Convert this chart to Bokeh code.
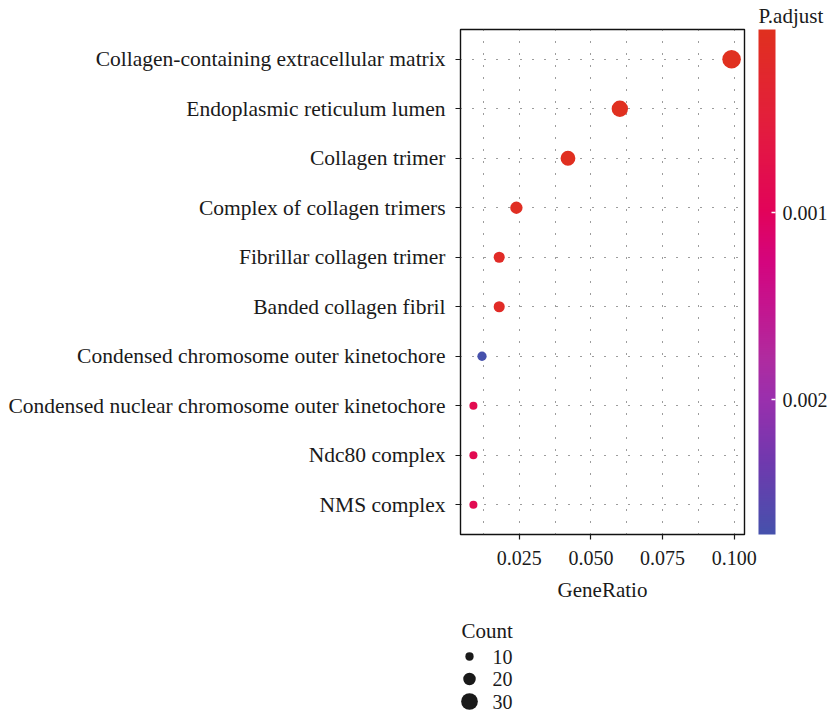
import math
from bokeh.plotting import figure
from bokeh.models import (Range1d, FixedTicker, LinearColorMapper, ColorBar, Title,
                          CustomJSTickFormatter, ColumnDataSource, PrintfTickFormatter,
                          AllLabels)
from bokeh.layouts import column
from bokeh.transform import transform
from bokeh.embed import file_html
from bokeh.resources import INLINE
from bokeh.core.properties import value

# ---------------- data ----------------
terms = [
    "Collagen-containing extracellular matrix",
    "Endoplasmic reticulum lumen",
    "Collagen trimer",
    "Complex of collagen trimers",
    "Fibrillar collagen trimer",
    "Banded collagen fibril",
    "Condensed chromosome outer kinetochore",
    "Condensed nuclear chromosome outer kinetochore",
    "Ndc80 complex",
    "NMS complex",
]
gene_ratio = [0.0991, 0.0601, 0.0420, 0.0240, 0.0180, 0.0180, 0.0120, 0.0090, 0.0090, 0.0090]
counts = [33, 20, 14, 8, 6, 6, 4, 3, 3, 3]
p_adjust = [2.1e-05, 3.3e-05, 4.5e-05, 8.8e-05, 1.5e-04, 1.5e-04, 2.72e-03, 8.4e-04, 8.6e-04, 8.6e-04]
x_ticks = [0.025, 0.050, 0.075, 0.100]
cbar_ticks = [0.001, 0.002]
legend_counts = [10, 20, 30]

FONT = "Liberation Serif"
TXT = "#1a1a1a"
GRID = "#3a3a3a"

# layout (pixels)
FRAME_L, FRAME_W, FRAME_T, FRAME_H = 460, 284, 29, 505
FIG_W = 829
MAIN_H = 612
LEG_H = 102

# colour gradient stops, from smallest p.adjust (top) to largest (bottom)
stops = [(0.00, "#E0301F"), (0.18, "#E31E3C"), (0.36, "#E2035A"), (0.46, "#D4057E"),
         (0.55, "#C4158F"), (0.65, "#B02B9F"), (0.73, "#9B2FAD"), (0.85, "#7238AE"),
         (1.00, "#4651AC")]


def _rgb(h):
    h = h.lstrip("#")
    return tuple(int(h[i:i + 2], 16) for i in (0, 2, 4))


def _interp(t):
    for (t0, c0), (t1, c1) in zip(stops[:-1], stops[1:]):
        if t0 <= t <= t1:
            f = (t - t0) / (t1 - t0) if t1 > t0 else 0
            a, b = _rgb(c0), _rgb(c1)
            return "#%02x%02x%02x" % tuple(round(a[i] + (b[i] - a[i]) * f) for i in range(3))
    return stops[-1][1]


N_PAL = 256
# palette index 0 corresponds to mapper low (= -max p, the blue end at the bottom)
palette = [_interp(1 - k / (N_PAL - 1)) for k in range(N_PAL)]


def point_size(c):
    return 3.2 + 4.4 * math.log(c)


def legend_size(c):
    return 4.1 + 0.42 * c


n = len(terms)
pos = [n - i for i in range(n)]
src = ColumnDataSource(dict(
    term=terms, ratio=gene_ratio, pos=pos, count=counts,
    size=[point_size(c) for c in counts],
    negp=[-v for v in p_adjust],
))

span = max(gene_ratio) - min(gene_ratio)
x_lo, x_hi = min(gene_ratio) - 0.05 * span, max(gene_ratio) + 0.05 * span
y_lo, y_hi = 0.4, n + 0.6
x_range = Range1d(x_lo, x_hi)
y_range = Range1d(y_lo, y_hi)

p = figure(frame_width=FRAME_W, frame_height=FRAME_H,
           min_border_left=FRAME_L, min_border_right=FIG_W - FRAME_L - FRAME_W,
           min_border_top=FRAME_T, min_border_bottom=MAIN_H - FRAME_T - FRAME_H,
           x_range=x_range, y_range=y_range,
           output_backend="svg", toolbar_location=None, tools="")
p.background_fill_color = "white"
p.border_fill_color = "white"
p.outline_line_color = "#111111"
p.outline_line_width = 1.4

step = x_ticks[1] - x_ticks[0]
xticker = FixedTicker(ticks=x_ticks, minor_ticks=[t - step / 2 for t in x_ticks])
xa = p.xaxis[0]
xa.ticker = xticker
xa.formatter = PrintfTickFormatter(format="%.3f")
xa.axis_label = "GeneRatio"
xa.axis_label_text_font = FONT
xa.axis_label_text_font_size = "21px"
xa.axis_label_text_font_style = "normal"
xa.axis_label_text_color = TXT
xa.axis_label_standoff = 10
xa.major_label_text_font = FONT
xa.major_label_text_font_size = "20px"
xa.major_label_text_color = TXT
xa.major_label_standoff = 11
xa.axis_line_color = None
xa.major_tick_line_color = TXT
xa.major_tick_line_width = 1.2
xa.major_tick_in = 0
xa.major_tick_out = 5
xa.minor_tick_line_color = None

yticker = FixedTicker(ticks=pos)
ya = p.yaxis[0]
ya.ticker = yticker
ya.major_label_overrides = {pp: t for pp, t in zip(pos, terms)}
ya.major_label_text_font = FONT
ya.major_label_text_font_size = "21.5px"
ya.major_label_text_color = TXT
ya.major_label_standoff = 10
ya.axis_line_color = None
ya.major_tick_line_color = TXT
ya.major_tick_line_width = 1.2
ya.major_tick_in = 0
ya.major_tick_out = 5
ya.minor_tick_line_color = None

p.xgrid.ticker = xticker
p.xgrid.grid_line_color = GRID
p.xgrid.grid_line_dash = "1 11"
p.xgrid.minor_grid_line_color = GRID
p.xgrid.minor_grid_line_dash = "1 11"
p.ygrid.ticker = yticker
p.ygrid.grid_line_color = GRID
p.ygrid.grid_line_dash = "1 11"

mapper = LinearColorMapper(palette=palette, low=-max(p_adjust), high=-min(p_adjust))

p.scatter(x="ratio", y="pos", size="size", source=src, marker="circle",
          fill_color=transform("negp", mapper), line_color=None)

# colour bar (values negated so that small p.adjust sits at the top)
CB_X = 298  # px from the frame's left edge
cb = ColorBar(color_mapper=mapper, location=(CB_X, 0), width=17, height=FRAME_H,
              padding=0, margin=0,
              ticker=FixedTicker(ticks=[-t for t in cbar_ticks]),
              formatter=CustomJSTickFormatter(code="return (-tick).toFixed(3)"),
              major_label_policy=AllLabels(),
              major_tick_line_color="white", major_tick_line_width=1.5,
              major_tick_in=4, major_tick_out=0,
              minor_tick_line_color=None, bar_line_color=None,
              label_standoff=7,
              major_label_text_font=FONT, major_label_text_font_size="20px",
              major_label_text_color=TXT,
              background_fill_color=None, border_line_color=None)
p.add_layout(cb, "center")

# colour-bar title, in the panel above the frame, shifted over the bar
p.add_layout(Title(text="P.adjust", align="left", offset=CB_X, standoff=3,
                   text_font=FONT, text_font_size="21px", text_font_style="normal",
                   text_color=TXT), "above")

# ---------------- size legend (frame aligned with the main panel) ----------------
leg = figure(frame_width=FRAME_W, frame_height=LEG_H,
             min_border_left=FRAME_L, min_border_right=FIG_W - FRAME_L - FRAME_W,
             min_border_top=0, min_border_bottom=0,
             x_range=Range1d(0, FRAME_W), y_range=Range1d(LEG_H, 0),
             output_backend="svg", toolbar_location=None, tools="",
             x_axis_type=None, y_axis_type=None)
leg.outline_line_color = None
leg.background_fill_color = "white"
leg.border_fill_color = "white"
leg.xgrid.visible = False
leg.ygrid.visible = False

LEG_X, LEG_TITLE_Y, LEG_Y0, LEG_DY, LEG_TX = 9, 18, 44, 22.5, 32
lsrc = ColumnDataSource(dict(
    x=[LEG_X] * len(legend_counts),
    y=[LEG_Y0 + LEG_DY * i for i in range(len(legend_counts))],
    tx=[LEG_TX] * len(legend_counts),
    size=[legend_size(c) for c in legend_counts],
    label=[str(c) for c in legend_counts],
))
leg.scatter(x="x", y="y", size="size", source=lsrc, marker="circle",
            fill_color=TXT, line_color=None)
leg.text(x="tx", y="y", text="label", source=lsrc, text_font=value(FONT),
         text_font_size="20px", text_color=TXT, text_baseline="middle", text_align="left")
leg.text(x=[LEG_X - 8], y=[LEG_TITLE_Y], text=["Count"], text_font=value(FONT),
         text_font_size="21px", text_color=TXT, text_baseline="middle", text_align="left")

layout = column(p, leg)
open("out.html", "w").write(file_html(layout, INLINE))
